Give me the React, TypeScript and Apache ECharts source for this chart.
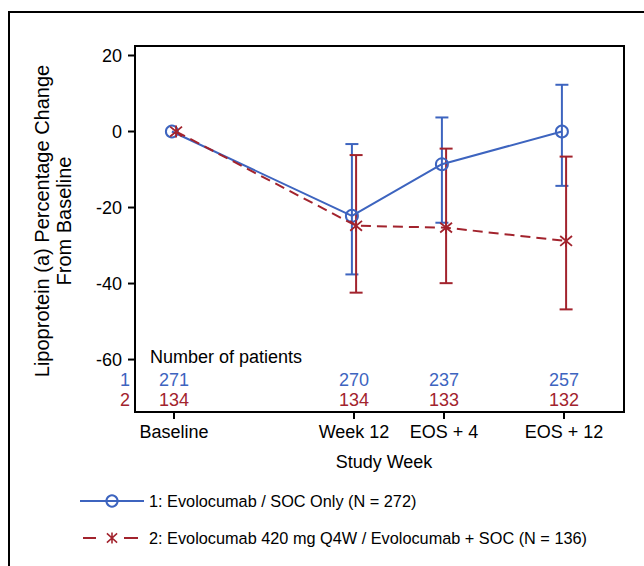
import React, { useEffect, useRef } from "react";
import * as echarts from "echarts";

// ---- data ----
const weeks = [0, 12, 18, 26];
const weekLabels = ["Baseline", "Week 12", "EOS + 4", "EOS + 12"];
const yTicks = [-60, -40, -20, 0, 20];

const g1Mean = [0, -22.2, -8.6, 0];
const g1Lower = [null, -37.6, -24.0, -14.3];
const g1Upper = [null, -3.3, 3.7, 12.3];

const g2Mean = [0, -24.8, -25.3, -28.8];
const g2Lower = [null, -42.4, -39.9, -46.8];
const g2Upper = [null, -6.2, -4.5, -6.6];

const g1N = [271, 270, 237, 257];
const g2N = [134, 134, 133, 132];

const g1Name = "1: Evolocumab / SOC Only (N = 272)";
const g2Name = "2: Evolocumab 420 mg Q4W / Evolocumab + SOC (N = 136)";

const BLUE = "#3D64BF";
const RED = "#A2232D";
const FONT = "Liberation Sans, Arial, Helvetica, sans-serif";
const DODGE = 0.14;
const X_MIN = -2.6;
const X_MAX = 30;
const Y_MIN = -73.8;
const Y_MAX = 22.5;
const TICK_LEN = 7;

const STAR =
  "path://M-0.08,4.32 L2.08,1.68 L24.08,19.68 L21.92,22.32 Z " +
  "M2.08,22.32 L-0.08,19.68 L21.92,1.68 L24.08,4.32 Z " +
  "M10.3,1 L13.7,1 L13.7,23 L10.3,23 Z";

function errorSeries(lower: (number | null)[], upper: (number | null)[], offset: number, color: string) {
  const data = weeks
    .map((w, i) => (lower[i] == null ? null : [w + offset, lower[i], upper[i]]))
    .filter((d) => d !== null);
  return {
    type: "custom",
    silent: true,
    z: 3,
    data,
    encode: { x: 0, y: [1, 2] },
    renderItem: (params: any, api: any) => {
      const x = api.value(0);
      const lo = api.coord([x, api.value(1)]);
      const hi = api.coord([x, api.value(2)]);
      const hw = 6.5;
      const style = { stroke: color, lineWidth: 2 };
      return {
        type: "group",
        children: [
          { type: "line", shape: { x1: lo[0], y1: lo[1], x2: hi[0], y2: hi[1] }, style },
          { type: "line", shape: { x1: lo[0] - hw, y1: lo[1], x2: lo[0] + hw, y2: lo[1] }, style },
          { type: "line", shape: { x1: hi[0] - hw, y1: hi[1], x2: hi[0] + hw, y2: hi[1] }, style },
        ],
      };
    },
  };
}

function xTickSeries() {
  return {
    type: "custom",
    silent: true,
    clip: false,
    z: 6,
    data: weeks.map((w) => [w, Y_MIN]),
    encode: { x: 0, y: 1 },
    renderItem: (params: any, api: any) => {
      const p = api.coord([api.value(0), Y_MIN]);
      return {
        type: "line",
        shape: { x1: p[0], y1: p[1], x2: p[0], y2: p[1] + TICK_LEN },
        style: { stroke: "#000", lineWidth: 2 },
      };
    },
  };
}

function yTickSeries() {
  return {
    type: "custom",
    silent: true,
    clip: false,
    z: 6,
    data: yTicks.map((v) => [X_MIN, v]),
    encode: { x: 0, y: 1 },
    renderItem: (params: any, api: any) => {
      const p = api.coord([X_MIN, api.value(1)]);
      return {
        type: "line",
        shape: { x1: p[0] - TICK_LEN, y1: p[1], x2: p[0], y2: p[1] },
        style: { stroke: "#000", lineWidth: 2 },
      };
    },
  };
}

function countSeries(counts: number[], yVal: number, color: string) {
  return {
    type: "scatter",
    silent: true,
    symbolSize: 0,
    itemStyle: { opacity: 1 },
    data: weeks.map((w, i) => [w, yVal, counts[i]]),
    label: {
      show: true,
      position: "inside",
      formatter: (p: any) => String(p.value[2]),
      fontSize: 18,
      color,
      opacity: 1,
      fontFamily: FONT,
    },
  };
}

export default function App() {
  const ref = useRef<HTMLDivElement>(null);

  useEffect(() => {
    if (!ref.current) return;
    const chart = echarts.init(ref.current, null, { renderer: "svg" });
    const textBase = { fontFamily: FONT, fill: "#000", align: "center", verticalAlign: "middle" };
    const axisLine = { show: true, onZero: false, lineStyle: { color: "#000", width: 2 } };
    const option: any = {
      animation: false,
      backgroundColor: "#fff",
      textStyle: { fontFamily: FONT },
      grid: {
        left: 135,
        top: 46,
        width: 489,
        height: 366,
        show: true,
        borderColor: "#000",
        borderWidth: 2,
        backgroundColor: "transparent",
      },
      xAxis: {
        type: "value",
        position: "bottom",
        min: X_MIN,
        max: X_MAX,
        axisLine,
        splitLine: { show: false },
        axisTick: { show: false },
        axisLabel: {
          customValues: weeks,
          margin: 11,
          fontSize: 18,
          color: "#000",
          fontFamily: FONT,
          formatter: (v: number) => weekLabels[weeks.indexOf(v)] ?? "",
        },
      },
      yAxis: {
        type: "value",
        position: "left",
        min: Y_MIN,
        max: Y_MAX,
        axisLine,
        splitLine: { show: false },
        axisTick: { show: false },
        axisLabel: {
          customValues: yTicks,
          margin: 13,
          fontSize: 18,
          color: "#000",
          fontFamily: FONT,
        },
      },
      legend: {
        orient: "vertical",
        left: 79,
        top: 493,
        padding: 0,
        itemWidth: 64,
        itemHeight: 14,
        itemGap: 21,
        textStyle: { fontSize: 16.3, color: "#000", fontFamily: FONT },
        data: [
          { name: g1Name },
          {
            name: g2Name,
            lineStyle: { type: [0, 3, 13, 28, 14, 100] },
          },
        ],
      },
      graphic: [
        {
          type: "rect",
          shape: { x: 9, y: 12, width: 800, height: 800 },
          style: { fill: "none", stroke: "#000", lineWidth: 2 },
          silent: true,
        },
        {
          type: "text",
          x: 42,
          y: 221,
          rotation: Math.PI / 2,
          style: { ...textBase, text: "Lipoprotein (a) Percentage Change", fontSize: 20 },
        },
        {
          type: "text",
          x: 64,
          y: 221,
          rotation: Math.PI / 2,
          style: { ...textBase, text: "From Baseline", fontSize: 20 },
        },
        {
          type: "text",
          x: 384,
          y: 462,
          style: { ...textBase, text: "Study Week", fontSize: 18 },
        },
        {
          type: "text",
          x: 150,
          y: 357,
          style: { ...textBase, text: "Number of patients", fontSize: 18, align: "left" },
        },
        {
          type: "text",
          x: 125,
          y: 380,
          style: { ...textBase, text: "1", fontSize: 18, fill: BLUE },
        },
        {
          type: "text",
          x: 125,
          y: 400,
          style: { ...textBase, text: "2", fontSize: 18, fill: RED },
        },
      ],
      series: [
        errorSeries(g1Lower, g1Upper, -DODGE, BLUE),
        errorSeries(g2Lower, g2Upper, DODGE, RED),
        {
          name: g1Name,
          type: "line",
          z: 4,
          data: weeks.map((w, i) => [w - DODGE, g1Mean[i]]),
          symbol: "circle",
          symbolSize: 12,
          lineStyle: { color: BLUE, width: 2, type: "solid" },
          itemStyle: { color: "rgba(255,255,255,0)", borderColor: BLUE, borderWidth: 2 },
          emphasis: { disabled: true },
        },
        {
          name: g2Name,
          type: "line",
          z: 5,
          data: weeks.map((w, i) => [w + DODGE, g2Mean[i]]),
          symbol: STAR,
          symbolSize: [13, 12],
          lineStyle: { color: RED, width: 2, type: [10, 6] },
          itemStyle: { color: RED },
          emphasis: { disabled: true },
        },
        countSeries(g1N, -65.4, BLUE),
        countSeries(g2N, -70.7, RED),
        xTickSeries(),
        yTickSeries(),
      ],
    };
    chart.setOption(option);
    return () => chart.dispose();
  }, []);

  return (
    <div
      ref={ref}
      style={{ position: "fixed", left: 0, top: 0, width: 644, height: 566, background: "#fff" }}
    />
  );
}
